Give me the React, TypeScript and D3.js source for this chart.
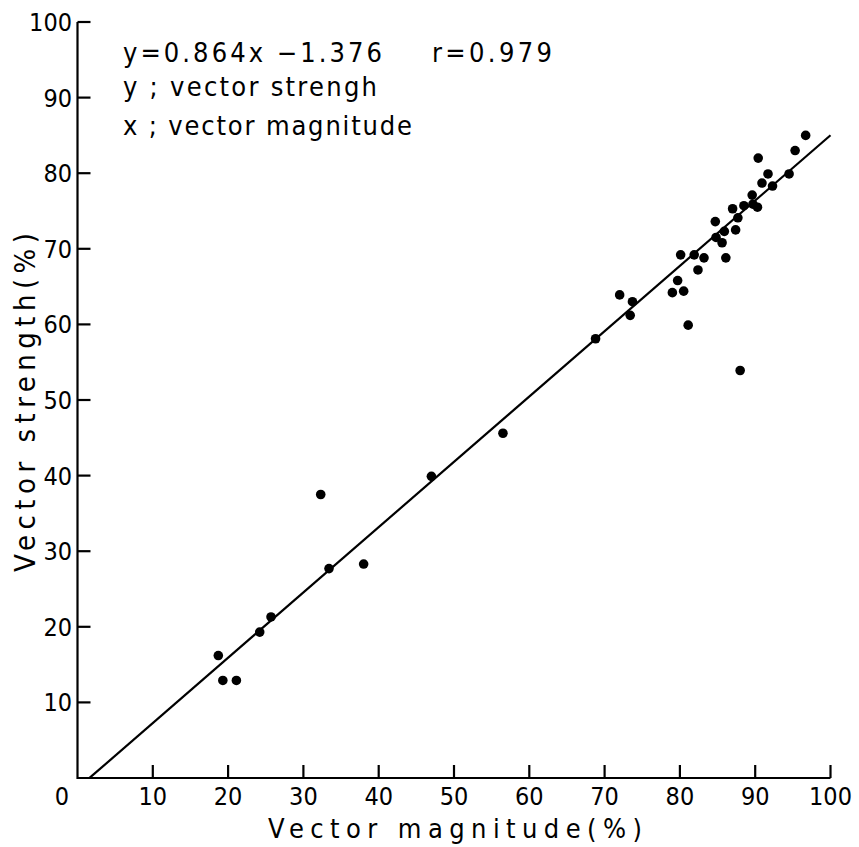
import React from "react";
import * as d3 from "d3";

const xTicks = [10, 20, 30, 40, 50, 60, 70, 80, 90, 100];
const yTicks = [10, 20, 30, 40, 50, 60, 70, 80, 90, 100];
const magnitude = [18.7, 19.3, 21.1, 24.2, 25.7, 32.3, 33.4, 38.0, 47.0, 56.5, 68.8, 72.0, 73.7, 73.4, 81.1, 79.0, 80.5, 79.7, 80.1, 82.4, 81.9, 83.2, 86.1, 84.7, 84.8, 85.6, 85.9, 87.4, 87.7, 87.0, 88.5, 89.6, 89.7, 90.3, 90.4, 90.9, 91.7, 92.3, 88.0, 94.5, 95.3, 96.7];
const strength = [16.2, 12.9, 12.9, 19.3, 21.3, 37.5, 27.7, 28.3, 39.9, 45.6, 58.1, 63.9, 63.0, 61.2, 59.9, 64.2, 64.4, 65.8, 69.2, 67.2, 69.2, 68.8, 68.8, 73.6, 71.5, 70.8, 72.3, 72.5, 74.1, 75.3, 75.7, 77.1, 75.9, 75.5, 82.0, 78.7, 79.9, 78.3, 53.9, 79.9, 83.0, 85.0];
const slope = 0.864;
const intercept = -1.376;
const fitRange = [1.6, 100];
const equationText = "y=0.864x −1.376";
const rText = "r=0.979";
const yDef = "y ; vector strengh";
const xDef = "x ; vector magnitude";
const xTitle = "Vector magnitude(%)";
const yTitle = "Vector strength(%)";

const FONT = "'Liberation Sans Narrow', 'DejaVu Sans Condensed', 'Roboto', sans-serif";

export default function App() {
  const x = d3.scaleLinear().domain([0, 100]).range([77.5, 830.5]);
  const y = d3.scaleLinear().domain([0, 100]).range([778, 22]);
  const line = d3.line<number>().x((d) => x(d)).y((d) => y(slope * d + intercept));
  const tick = 13;
  return (
    <svg width={859} height={847} style={{ position: "absolute", left: 0, top: 0, background: "#fff" }} fontFamily={FONT}>
      <rect width={859} height={847} fill="#fff" />
      <path d={`M${x(0)},${y(100)} L${x(0)},${y(0)} L${x(100)},${y(0)}`} fill="none" stroke="#000" strokeWidth={2.2} />
      {yTicks.map((t) => (
        <line key={"yt" + t} x1={x(0)} x2={x(0) + tick} y1={y(t)} y2={y(t)} stroke="#000" strokeWidth={2.2} />
      ))}
      {xTicks.map((t) => (
        <line key={"xt" + t} x1={x(t)} x2={x(t)} y1={y(0)} y2={y(0) - tick} stroke="#000" strokeWidth={2.2} />
      ))}
      {yTicks.map((t) => (
        <text key={"yl" + t} x={72} y={y(t)} dy="0.36em" textAnchor="end" fontSize={25}>{t}</text>
      ))}
      {xTicks.map((t) => (
        <text key={"xl" + t} x={x(t)} y={805} textAnchor="middle" fontSize={25}>{t}</text>
      ))}
      <text x={62} y={805} textAnchor="middle" fontSize={25}>0</text>
      <path d={line(fitRange) || ""} fill="none" stroke="#000" strokeWidth={2.2} />
      {magnitude.map((m, i) => (
        <circle key={"p" + i} cx={x(m)} cy={y(strength[i])} r={4.8} fill="#000" />
      ))}
      <text x={123} y={62} fontSize={27} textLength={259} lengthAdjust="spacing">{equationText}</text>
      <text x={432} y={62} fontSize={27} textLength={120} lengthAdjust="spacing">{rText}</text>
      <text x={123} y={96} fontSize={27} textLength={254} lengthAdjust="spacing">{yDef}</text>
      <text x={123} y={135} fontSize={27} textLength={289} lengthAdjust="spacing">{xDef}</text>
      <text x={268} y={838} fontSize={27} textLength={374} lengthAdjust="spacing">{xTitle}</text>
      <text transform="translate(35,402.5) rotate(-90)" textAnchor="middle" fontSize={29} textLength={339} lengthAdjust="spacing">{yTitle}</text>
    </svg>
  );
}
